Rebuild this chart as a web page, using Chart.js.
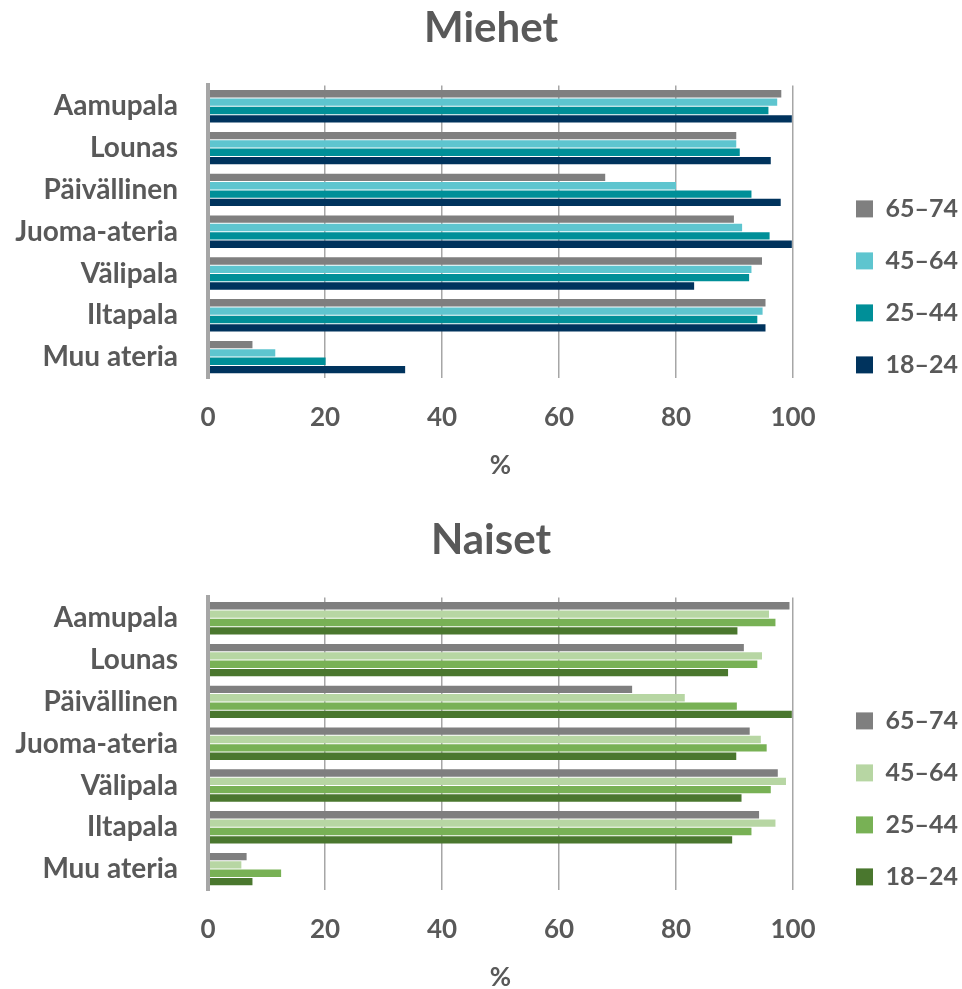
<!DOCTYPE html>
<html>
<head>
<meta charset="utf-8">
<script src="https://cdn.jsdelivr.net/npm/chart.js@4/dist/chart.umd.min.js"></script>
<style>
  html, body { margin: 0; padding: 0; background: #fff; overflow: hidden; width: 962px; height: 989px; }
  .box { position: absolute; left: 0; width: 962px; height: 485px; }
  #menBox { top: 0; }
  #womenBox { top: 512px; }
</style>
</head>
<body>
<div class="box" id="menBox"><canvas id="men"></canvas></div>
<div class="box" id="womenBox"><canvas id="women"></canvas></div>
<script>
// Meal types (rows) and age groups (series)
const categories = ['Aamupala', 'Lounas', 'Päivällinen', 'Juoma-ateria', 'Välipala', 'Iltapala', 'Muu ateria'];
const ageGroups = ['65–74', '45–64', '25–44', '18–24'];
const xTicks = [0, 20, 40, 60, 80, 100];

// Miehet, % per age group
const men6574 = [98.0, 90.3, 67.9, 89.9, 94.7, 95.3, 7.6];
const men4564 = [97.3, 90.3, 80.0, 91.3, 92.9, 94.8, 11.5];
const men2544 = [95.8, 90.9, 92.9, 96.0, 92.5, 93.9, 20.1];
const men1824 = [99.8, 96.2, 97.9, 99.8, 83.1, 95.3, 33.7];

// Naiset, % per age group
const women6574 = [99.4, 91.6, 72.5, 92.6, 97.4, 94.2, 6.6];
const women4564 = [95.9, 94.7, 81.5, 94.5, 98.8, 97.0, 5.7];
const women2544 = [97.0, 93.9, 90.4, 95.5, 96.2, 92.9, 12.5];
const women1824 = [90.5, 88.9, 99.8, 90.3, 91.2, 89.6, 7.6];

const menColors = ['#7f7f7f', '#5ec5cf', '#008f98', '#00335d'];
const womenColors = ['#7f7f7f', '#b7d6a3', '#78b155', '#4a772e'];

const TEXT = '#595959';
const GRID = '#a6a6a6';

function buildChart(canvasId, title, series, colors) {
  const datasets = series.map((values, i) => ({
    label: ageGroups[i],
    data: values,
    backgroundColor: colors[i],
    borderWidth: 0,
    xAxisID: 'x',
    yAxisID: 'y',
    categoryPercentage: 0.8,
    barPercentage: 0.88
  }));

  return new Chart(document.getElementById(canvasId), {
    type: 'bar',
    data: { labels: categories, datasets },
    options: {
      indexAxis: 'y',
      responsive: true,
      maintainAspectRatio: false,
      animation: false,
      layout: { padding: { left: 14, right: -6, top: 0, bottom: 0 } },
      plugins: {
        title: {
          display: true,
          text: title,
          color: TEXT,
          font: { size: 42, weight: 'bold' },
          padding: { top: 3, bottom: 32 }
        },
        legend: {
          position: 'right',
          align: 'start',
          title: { display: true, text: '', padding: { top: 155, bottom: 0 } },
          labels: {
            boxWidth: 17,
            boxHeight: 17,
            padding: 27,
            color: TEXT,
            font: { size: 25, weight: 'bold' }
          }
        },
        tooltip: { enabled: false }
      },
      scales: {
        x: {
          type: 'linear',
          position: 'bottom',
          min: 0,
          max: 100,
          afterBuildTicks: (scale) => { scale.ticks = xTicks.map(v => ({ value: v })); },
          ticks: { color: TEXT, font: { size: 26, weight: 'bold' }, padding: 24 },
          grid: { color: GRID, lineWidth: 1.5, drawTicks: false },
          border: { display: false },
          title: {
            display: true,
            text: '%',
            color: TEXT,
            font: { size: 26, weight: 'bold' },
            padding: { top: 0, bottom: 4 }
          },
          afterFit: (scale) => { scale.height = 107; }
        },
        y: {
          type: 'category',
          position: 'left',
          grid: { display: false, drawTicks: false },
          border: { display: true, width: 4, color: GRID, z: 1 },
          ticks: { color: TEXT, font: { size: 28, weight: 'bold' }, padding: 30 },
          afterFit: (scale) => { scale.width = 194; }
        },
        // empty spacer between the plot and the legend
        gap: {
          type: 'linear',
          position: 'right',
          display: true,
          grid: { display: false, drawTicks: false },
          border: { display: false },
          ticks: { display: false },
          afterFit: (scale) => { scale.width = 36; }
        }
      }
    }
  });
}

Chart.defaults.font.family = 'Lato, "Open Sans", sans-serif';

function draw() {
  buildChart('men', 'Miehet', [men6574, men4564, men2544, men1824], menColors);
  buildChart('women', 'Naiset', [women6574, women4564, women2544, women1824], womenColors);
}

if (document.fonts && document.fonts.load) {
  Promise.all([
    document.fonts.load('bold 28px Lato'),
    document.fonts.load('bold 42px Lato')
  ]).then(draw, draw);
} else {
  draw();
}
</script>
</body>
</html>
